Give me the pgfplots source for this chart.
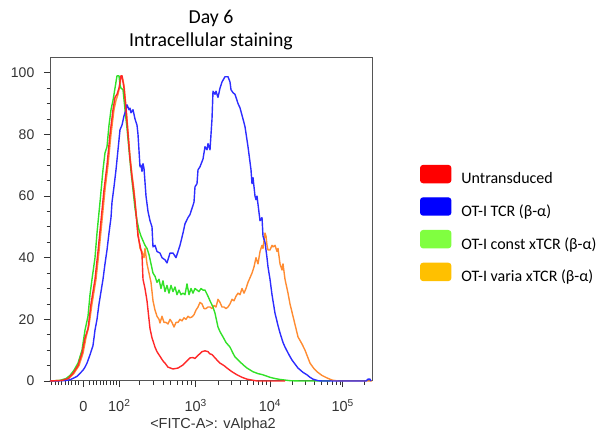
\documentclass[border=0pt]{standalone}
\usepackage{pgfplots}
\pgfplotsset{compat=1.18}
\usepackage{fontspec}
\setmainfont{Liberation Sans}
\newfontfamily\calibri{Carlito}
\definecolor{cRed}{RGB}{255,40,40}
\definecolor{cBlue}{RGB}{45,45,255}
\definecolor{cGreen}{RGB}{50,225,40}
\definecolor{cOrange}{RGB}{255,140,50}
\definecolor{lRed}{RGB}{255,0,0}
\definecolor{lBlue}{RGB}{0,0,255}
\definecolor{lGreen}{RGB}{128,255,64}
\definecolor{lOrange}{RGB}{255,192,0}
\definecolor{frameC}{RGB}{85,85,85}
\definecolor{tickC}{RGB}{51,51,51}
\begin{document}
\begin{tikzpicture}
\useasboundingbox (0,0) rectangle (599bp,430bp);
\begin{axis}[
  at={(50bp,49bp)}, anchor=south west,
  scale only axis, width=322bp, height=323.7bp,
  xmin=50, xmax=372, ymin=0, ymax=105,
  clip=false,
  axis line style={frameC, line width=1bp},
  tick style={tickC, line width=0.8bp},
  tick align=outside,
  xtick pos=bottom, ytick pos=left,
  major tick length=6bp, minor tick length=3.5bp,
  xtick={83.5,119.3,195.7,270,342.7},
  xticklabels={0,10\textsuperscript{2},10\textsuperscript{3},10\textsuperscript{4},10\textsuperscript{5}},
  minor xtick={51.7,55,58.3,61.7,65,68.3,71.7,75,78.3,89.3,93.3,96.7,100,103.3,106.7,110,113,116.5,139,153,163,170.5,177,182.5,187.3,191.7,218,231,240.4,247.6,253.5,258.5,262.8,266.6,292,305,314.5,321.5,327.3,332.2,336.5,340,364.7},
  ytick={0,20,40,60,80,100},
  minor y tick num=3,
  /pgf/number format/assume math mode=true,
  xticklabel style={font=\fontsize{14.5bp}{16bp}\selectfont, text=tickC, anchor=base, inner sep=0pt, yshift=-25bp},
  yticklabel style={font=\fontsize{14bp}{16bp}\selectfont, text=tickC, anchor=east, inner sep=0pt, xshift=-9.5bp},
  xlabel={<FITC-A>: vAlpha2},
  xlabel style={font=\fontsize{14.5bp}{17bp}\selectfont, text=tickC, at={(axis description cs:0.5,0)}, anchor=base, inner sep=0pt, yshift=-47bp, xshift=2bp},
  title={Day 6\\Intracellular staining},
  title style={font=\calibri\fontsize{19.8bp}{23.2bp}\selectfont, align=center, at={(axis description cs:0.5,1)}, anchor=south, inner sep=0pt, yshift=1.5bp},
  legend style={at={(axis cs:420,70.1)}, anchor=north west, draw=none, fill=none, inner sep=0pt, outer sep=0pt,
    font=\calibri\fontsize{16bp}{19bp}\selectfont, row sep=11.9bp, column sep=10bp,
    nodes={inner sep=0pt}},
  legend cell align=left,
  every axis plot/.append style={line width=1.4bp, line join=round},
]
\addlegendimage{legend image code/.code={\fill[lRed,rounded corners=2.5bp] (0bp,-3.5bp) rectangle (30bp,13.5bp);}}
\addlegendentry{Untransduced}
\addlegendimage{legend image code/.code={\fill[lBlue,rounded corners=2.5bp] (0bp,-3.5bp) rectangle (30bp,13.5bp);}}
\addlegendentry{OT-I TCR (β-α)}
\addlegendimage{legend image code/.code={\fill[lGreen,rounded corners=2.5bp] (0bp,-3.5bp) rectangle (30bp,13.5bp);}}
\addlegendentry{OT-I const xTCR (β-α)}
\addlegendimage{legend image code/.code={\fill[lOrange,rounded corners=2.5bp] (0bp,-3.5bp) rectangle (30bp,13.5bp);}}
\addlegendentry{OT-I varia xTCR (β-α)}
% orange: OT-I varia xTCR
\addplot[cOrange, forget plot] coordinates {
(50,0) (63,0.2) (69,0.8) (74,2.5) (79,5) (83,9) (86,14) (89,18) (92,25) (96,33) (99,42) (102,52) (105,62) (108,70) (111,80) (114,88) (116,91) (118,93) (120,96) (121,99) (122,99) (124,96) (126,89) (128,81) (130,73) (132,67) (134,62) (136,55) (138,48) (140,43) (142,42) (144,40) (145,43) (147,38) (149,35) (151,32) (153,26) (155,23) (157,21) (159,20) (160,18.8) (162,21) (164,19) (166,19) (168,18.5) (170,20) (172,19) (174,17.5) (176,19) (178,19) (180,20) (182,19.5) (184,20.5) (186,20) (188,21) (190,20.5) (192,20.8) (194,21.5) (196,23) (198,24) (200,25.5) (202,25) (204,23.5) (206,23.5) (208,24) (210,24) (212,23.5) (214,24.5) (216,24) (218,26.5) (220,25.5) (222,24) (224,24) (226,23.5) (228,24) (230,25) (232,26.5) (234,26) (236,27.5) (238,28.5) (240,28) (242,30) (244,28.5) (246,30) (248,32) (250,33.5) (252,35) (254,37) (256,40) (258,38) (260,42) (262,44) (263,43) (265,48) (266,47) (267,44) (268,42.5) (270,42.5) (272,44) (273,43.5) (275,44) (277,42) (278,43) (280,38) (282,36) (283,38) (285,33) (288,28.5) (290,25) (293,21) (296,17) (298,14.3) (302,12) (305,10) (308,7.5) (310,5.8) (314,4) (317,3) (322,1.8) (327,1) (332,0.3) (338,0) (372,0)
};
% green: OT-I const xTCR
\addplot[cGreen, forget plot] coordinates {
(50,0) (60,0.2) (66,0.8) (70,1.8) (74,3.5) (78,5.8) (82,10) (85,16.5) (88,21) (90,28) (92,33) (95,40) (97,48) (100,58) (102,65) (103,68.5) (105,74) (107,76) (109,83) (111,88) (113,91) (115,95) (117,99) (119,99) (120,96) (121,95) (123,94.5) (125,88) (127,82) (129,75) (131,68) (133,62) (135,56) (137,52) (139,49) (141,47) (143,45.5) (145,44) (147,43) (149,41) (151,38) (153,35) (155,34) (157,32) (159,33) (161,30) (163,32.5) (165,29) (167,31) (169,28.5) (171,31) (173,29) (175,30.5) (177,28) (179,29.5) (181,28) (183,28.5) (185,28) (187,31.5) (189,28) (191,30) (193,28.5) (195,30) (197,29.5) (199,29) (201,30) (203,29.5) (205,29.5) (208,27.5) (210,26) (213,24) (215,22) (218,17.5) (220,16) (223,14.3) (226,12.5) (230,11) (233,9) (235,7.8) (240,6.2) (244,5) (247,4.2) (253,3) (258,2.4) (263,2) (270,1.2) (275,0.8) (280,0.5) (290,0.1) (300,0) (330,0)
};
% blue: OT-I TCR
\addplot[cBlue, forget plot] coordinates {
(50,0) (65,0.1) (70,0.4) (74,1) (77,1.5) (80,2.5) (83,3.5) (85,4.5) (87,5.8) (90,8.5) (93,11.5) (95,16.5) (97,20) (99,25) (101,29) (103,33) (105,38) (107,42.5) (109,48) (111,53) (112,58) (114,63) (116,68.5) (118,75) (120,81.5) (122,83) (124,86) (126,88) (127,89.6) (129,88) (130,88.5) (131,87) (133,88) (135,85) (137,83) (138,80) (140,69.5) (141,70) (142,68) (143,70.5) (144,69) (146,60) (148,55) (150,52) (152,50) (153,43.5) (155,44) (157,42) (160,41.5) (162,40) (165,39.3) (167,38.3) (170,41.5) (173,41.5) (176,40) (178,42) (180,44) (183,48) (185,51) (188,53) (190,54) (192,56) (194,58) (195,63) (197,64) (198,68.5) (200,69.5) (203,72) (205,76) (207,75) (208,77) (210,75) (212,85) (213,94) (215,93) (216,94) (218,92) (220,95) (222,97) (225,98.7) (228,98.7) (230,97) (231,94.5) (233,93.5) (235,93) (238,90) (240,88.6) (243,85) (245,82.5) (248,76) (250,71) (251,68.5) (252,64) (253,66) (255,60) (256,58.8) (257,60) (260,52) (262,53) (263,47) (265,45) (267,40) (268,37) (270,33) (272,28) (275,22) (278,18) (280,15.6) (283,12.5) (285,11) (289,8.5) (292,6.8) (295,5.5) (298,4.2) (303,2.8) (307,2) (310,1.2) (313,0.6) (318,0.1) (322,0) (366,0) (368,0.6) (370,0.6) (371,0)
};
% red: Untransduced
\addplot[cRed, forget plot] coordinates {
(50,0) (62,0.2) (68,0.8) (73,2.5) (78,5) (82,9) (85,14) (88,17) (91,25) (95,33) (98,42) (101,52) (104,62) (107,70) (110,80) (113,88) (115,92) (117,93) (119,95) (121,99) (122,99) (124,95) (126,88) (128,80) (130,72) (132,66) (135,58) (138,47) (140,44) (142,41) (143,33) (145,30) (147,26) (150,17) (152,14) (155,11) (157,9.5) (160,8) (163,6.5) (165,5.8) (168,4.5) (173,3.9) (178,4.2) (183,5.2) (187,6.5) (190,7.5) (193,7.6) (195,7.3) (198,8.3) (202,9.5) (205,9.8) (208,9.5) (210,8.8) (212,8.6) (215,7.5) (217,6.8) (220,5.8) (224,5) (227,4.2) (232,3) (237,2) (242,1.2) (247,0.6) (252,0.3) (257,0) (285,0)
};
\end{axis}
\end{tikzpicture}
\end{document}
